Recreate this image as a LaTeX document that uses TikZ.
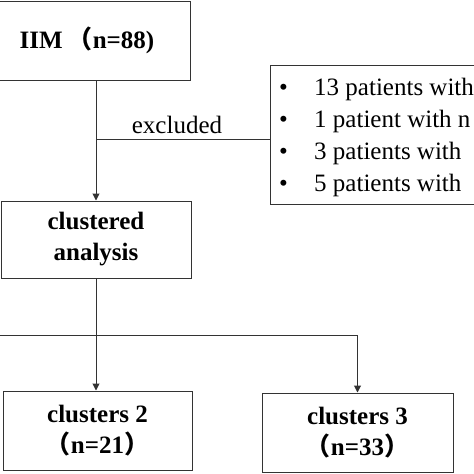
\documentclass[tikz,border=0pt]{standalone}
\usepackage{fontspec}
\setmainfont{Liberation Serif}
\newfontfamily\cjk{Noto Sans CJK SC}
\usetikzlibrary{arrows.meta}
\begin{document}
\begin{tikzpicture}[x=1pt,y=-1pt,
  box/.style={draw=black!80, line width=1pt, inner sep=0pt, align=center,
    font=\fontsize{25}{31}\selectfont\bfseries},
  conn/.style={draw=black!80, line width=1pt},
  arr/.style={conn, -{Triangle[length=7pt,width=7pt]}},
  lbl/.style={inner sep=0pt, font=\fontsize{25}{31}\selectfont}]
\useasboundingbox (0,0) rectangle (474,474);
\clip (0,0) rectangle (474,474);
\fill[white] (0,0) rectangle (474,474);
% boxes
\node[box, minimum width=206, minimum height=79] (iim) at (87,40.5) {IIM\hspace{5pt}{\cjk （}n=88)};
\node[box, minimum width=190, minimum height=77] (ca) at (96,239.5) {clustered\\analysis};
\node[box, minimum width=189, minimum height=79] (c2) at (97.5,430.5) {clusters 2\\{\cjk （}n=21{\cjk ）}};
\node[box, minimum width=191, minimum height=79] (c3) at (357.5,432.5) {clusters 3\\{\cjk （}n=33{\cjk ）}};
\node[draw=black!80, line width=1pt, inner sep=0pt, minimum width=290, minimum height=139,
      anchor=north west] (ex) at (270,65) {};
% exclusion list
\node[lbl, anchor=base west] (b1) at (279,95) {•};
\node[lbl, anchor=base west] (t1) at (314,95) {13 patients with};
\node[lbl, anchor=base west] (b2) at (279,127) {•};
\node[lbl, anchor=base west] (t2) at (314,127) {1 patient with n};
\node[lbl, anchor=base west] (b3) at (279,159) {•};
\node[lbl, anchor=base west] (t3) at (314,159) {3 patients with};
\node[lbl, anchor=base west] (b4) at (279,191) {•};
\node[lbl, anchor=base west] (t4) at (314,191) {5 patients with};
% connectors
\draw[arr] (iim.south -| ca.north) -- (ca.north);
\coordinate (j1) at (96,139);
\draw[conn] (j1) -- (j1 -| ex.west);
\node[lbl, anchor=base] (exl) at (177,133) {excluded};
\draw[arr] (ca.south) -- (ca.south |- c2.north);
\coordinate (hl) at (-10,335);
\coordinate (hr) at (357.5,335);
\draw[conn] (hl) -- (hr);
\draw[arr] (hr) -- (c3.north);
\end{tikzpicture}
\end{document}
